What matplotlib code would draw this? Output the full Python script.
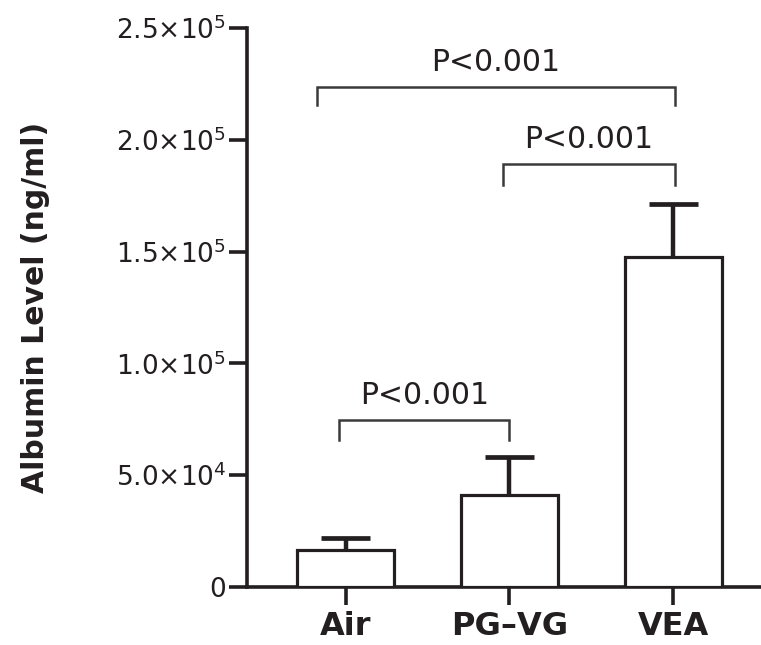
import matplotlib
matplotlib.use("Agg")
import matplotlib.pyplot as plt

# values (ng/ml)
groups = ["Air", "PG\u2013VG", "VEA"]
means = [16500, 41100, 147600]
err_up = [5300, 17200, 23700]

# significance brackets: left x, right x, bar height, leg bottom, label
br_left = [-0.175, 0.96, -0.04]
br_right = [2.01, 2.01, 1.0]
br_top = [223700, 189000, 74700]
br_foot = [215600, 179800, 65700]
br_text = ["P<0.001", "P<0.001", "P<0.001"]

yticks = [0, 50000, 100000, 150000, 200000, 250000]
ytick_labels = ["0", r"5.0$\times$10$^{4}$", r"1.0$\times$10$^{5}$",
                r"1.5$\times$10$^{5}$", r"2.0$\times$10$^{5}$", r"2.5$\times$10$^{5}$"]

INK = "#231f20"
plt.rcParams["font.family"] = ["DejaVu Sans"]
plt.rcParams["mathtext.fontset"] = "dejavusans"

fig = plt.figure(figsize=(7.61, 6.45), dpi=100)
ax = fig.add_axes([0.325, 0.09, 0.675, 0.8666])

x = list(range(len(groups)))
ax.bar(x, means, width=0.59, color="white", edgecolor=INK, linewidth=2.3, zorder=3)
# upper-only error bars: stem from bar top plus cap
tops = [m + e for m, e in zip(means, err_up)]
ax.vlines(x, means, tops, color=INK, lw=3.2, zorder=2)
ax.hlines(tops, [xi - 0.15 for xi in x], [xi + 0.15 for xi in x], color=INK, lw=3.4, zorder=2)

for xl, xr, yt, yf, t in zip(br_left, br_right, br_top, br_foot, br_text):
    ax.plot([xl, xl, xr, xr], [yf, yt, yt, yf], color="#3a3a3a", lw=1.8,
            solid_joinstyle="miter", zorder=4)
    ax.annotate(t, xy=((xl + xr) / 2, yt), xytext=(0, 11.5), textcoords="offset points",
                ha="center", va="baseline", fontsize=21.5, color=INK)

ax.set_xlim(-0.6, 2.535)
ax.set_ylim(0, 250000)
ax.set_xticks(x)
ax.set_xticklabels(groups, fontsize=23, fontweight="bold", color=INK)
ax.set_yticks(yticks)
ax.set_yticklabels(ytick_labels, fontsize=19, color=INK)
ax.set_ylabel("Albumin Level (ng/ml)", fontsize=21.5, fontweight="bold", color=INK)
ax.yaxis.set_label_coords(-0.385, 0.5)

for s in ["top", "right"]:
    ax.spines[s].set_visible(False)
for s in ["left", "bottom"]:
    ax.spines[s].set_linewidth(2.6)
    ax.spines[s].set_color(INK)
ax.tick_params(axis="both", length=13, width=2.6, color=INK)
ax.tick_params(axis="y", pad=2)
ax.tick_params(axis="x", pad=4)

fig.savefig("out.png", dpi=100)
